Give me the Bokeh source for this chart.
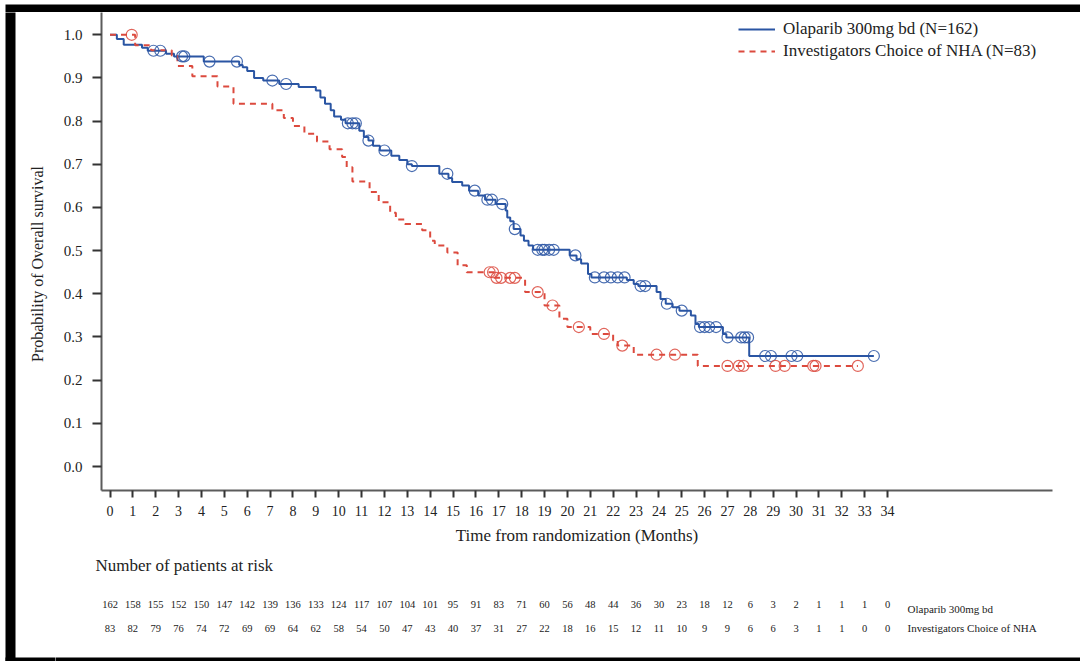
import numpy as np
from bokeh.plotting import figure
from bokeh.layouts import column, row
from bokeh.models import (Range1d, FixedTicker, NumeralTickFormatter, Legend, LegendItem,
                          BoxAnnotation)
from bokeh.core.properties import value
from bokeh.embed import file_html
from bokeh.resources import INLINE

# ---------------- data ----------------
months = list(range(0, 35))
y_ticks = [0.0, 0.1, 0.2, 0.3, 0.4, 0.5, 0.6, 0.7, 0.8, 0.9, 1.0]

ola_name = "Olaparib 300mg bd"
nha_name = "Investigators Choice of NHA"
ola_legend = "Olaparib 300mg bd (N=162)"
nha_legend = "Investigators Choice of NHA (N=83)"
x_title = "Time from randomization (Months)"
y_title = "Probability of Overall survival"
risk_title = "Number of patients at risk"

at_risk_ola = [162, 158, 155, 152, 150, 147, 142, 139, 136, 133, 124, 117, 107, 104, 101, 95, 91, 83,
               71, 60, 56, 48, 44, 36, 30, 23, 18, 12, 6, 3, 2, 1, 1, 1, 0]
at_risk_nha = [83, 82, 79, 76, 74, 72, 69, 69, 64, 62, 58, 54, 50, 47, 43, 40, 37, 31, 27, 22, 18, 16,
               15, 12, 11, 10, 9, 9, 6, 6, 3, 1, 1, 0, 0]

# Olaparib KM steps (time, survival after step)
ola_t = [0.0, 0.3, 0.6, 1.4, 1.65, 2.45, 2.8, 4.1, 5.65, 5.8, 6.0, 6.3, 6.7, 7.4, 8.25, 9.0, 9.2, 9.4,
         9.65, 9.8, 10.1, 10.3, 10.9, 11.1, 11.3, 11.5, 11.8, 12.3, 12.65, 13.0, 13.2, 14.4, 14.8,
         14.96, 15.4, 15.7, 16.1, 16.4, 16.86, 17.3, 17.37, 17.5, 17.65, 17.95, 18.1, 18.3, 18.5,
         20.1, 20.4, 20.6, 20.9, 21.05, 22.6, 22.9, 23.1, 23.9, 24.07, 24.3, 24.6, 24.9, 25.4, 25.6,
         25.75, 26.8, 26.95, 27.95]
ola_s = [1.0, 0.99, 0.977, 0.97, 0.963, 0.956, 0.95, 0.938, 0.93, 0.925, 0.916, 0.90, 0.894, 0.886,
         0.879, 0.871, 0.855, 0.84, 0.825, 0.811, 0.803, 0.795, 0.778, 0.763, 0.755, 0.743, 0.732,
         0.72, 0.71, 0.70, 0.696, 0.678, 0.668, 0.659, 0.651, 0.639, 0.628, 0.618, 0.608, 0.593,
         0.577, 0.568, 0.55, 0.535, 0.523, 0.512, 0.502, 0.489, 0.48, 0.47, 0.446, 0.438, 0.432,
         0.423, 0.418, 0.404, 0.388, 0.377, 0.369, 0.361, 0.35, 0.33, 0.323, 0.307, 0.299, 0.256]
ola_end = 33.4
ola_cens = [1.9, 2.2, 3.15, 3.25, 4.35, 5.55, 7.1, 7.7, 10.4, 10.6, 10.75, 11.3, 12.0, 13.2, 14.75,
            15.95, 16.5, 16.7, 17.15, 17.7, 18.7, 18.9, 19.0, 19.2, 19.4, 20.35, 21.2, 21.6, 21.9,
            22.2, 22.5, 23.2, 23.4, 24.35, 25.0, 25.8, 26.0, 26.2, 26.5, 27.0, 27.6, 27.75, 27.9,
            28.65, 28.9, 29.8, 30.05, 33.4]

# Investigators Choice of NHA KM steps
nha_t = [0.0, 1.1, 1.8, 2.7, 2.95, 3.6, 4.7, 5.4, 7.1, 7.6, 8.0, 8.5, 9.05, 9.6, 10.15, 10.35, 10.6,
         11.35, 11.75, 12.25, 12.5, 12.9, 13.65, 14.0, 14.2, 14.75, 15.2, 15.6, 16.8, 18.15, 19.0,
         19.65, 20.0, 21.0, 22.0, 22.2, 22.9, 25.7]
nha_s = [1.0, 0.976, 0.964, 0.952, 0.928, 0.904, 0.88, 0.84, 0.825, 0.807, 0.789, 0.771, 0.753, 0.735,
         0.717, 0.693, 0.66, 0.636, 0.612, 0.588, 0.572, 0.562, 0.547, 0.523, 0.512, 0.496, 0.466,
         0.45, 0.437, 0.404, 0.373, 0.342, 0.323, 0.307, 0.292, 0.28, 0.259, 0.233]
nha_end = 32.7
nha_cens = [0.95, 16.6, 16.75, 16.9, 17.1, 17.5, 17.7, 18.7, 19.35, 20.5, 21.6, 22.4, 23.9, 24.7,
            27.0, 27.5, 27.7, 29.1, 29.5, 30.75, 30.85, 32.7]

BLUE = "#2a55a3"
RED = "#dc4a3e"
TXT = "#222222"
SERIF = "Liberation Serif"

# ---------------- page geometry (pixels) ----------------
W, H = 1080, 661
TOP_H = 12            # strip holding the top black band
LEFT_W = 55           # strip holding the y title and the left black band
MAIN_H = 538          # main plot (page y 12 .. 550)
RISK_H = H - TOP_H - MAIN_H
X0_PX, PX_PER_MONTH = 109.5, 22.87      # x scale of the chart on the page
Y0_PX, PX_PER_UNIT = 466.0, 431.7       # y scale of the chart on the page
FRAME_L, FRAME_R, FRAME_T, FRAME_B = 101, 1052, 12, 490


def month_at(px):
    return (px - X0_PX) / PX_PER_MONTH


def prob_at(py):
    return (Y0_PX - py) / PX_PER_UNIT


def surv_at(ts, ss, cens):
    idx = np.searchsorted(np.array(ts), np.array(cens), side="right") - 1
    return [ss[i] for i in idx]


def blank(width, height, x_range, y_range):
    f = figure(width=width, height=height, output_backend="svg", toolbar_location=None,
               x_range=x_range, y_range=y_range, x_axis_location=None, y_axis_location=None,
               min_border=0)
    f.outline_line_color = None
    f.grid.visible = False
    f.frame_align = False
    return f


def band(**kw):
    return BoxAnnotation(fill_color="black", fill_alpha=1, line_color=None, **kw)


# ---------------- main figure ----------------
p = figure(width=W - LEFT_W, height=MAIN_H, output_backend="svg", toolbar_location=None,
           x_range=Range1d(month_at(FRAME_L), month_at(FRAME_R)),
           y_range=Range1d(prob_at(FRAME_B), prob_at(FRAME_T)),
           min_border_left=FRAME_L - LEFT_W, min_border_right=W - FRAME_R,
           min_border_top=FRAME_T - TOP_H, min_border_bottom=TOP_H + MAIN_H - FRAME_B)
p.frame_align = False
p.outline_line_color = None
p.xgrid.visible = False
p.ygrid.visible = False

p.xaxis.ticker = FixedTicker(ticks=months)
p.xaxis.axis_line_color = "#5c5c5c"
p.xaxis.axis_line_width = 2
p.xaxis.major_tick_line_color = "#333333"
p.xaxis.major_tick_line_width = 2
p.xaxis.major_tick_out = 7
p.xaxis.major_tick_in = 0
p.xaxis.minor_tick_out = 0
p.xaxis.minor_tick_in = 0
p.xaxis.major_label_standoff = 8
p.xaxis.major_label_text_font = SERIF
p.xaxis.major_label_text_font_size = "14px"
p.xaxis.major_label_text_color = TXT
p.xaxis.axis_label = x_title
p.xaxis.axis_label_text_font = SERIF
p.xaxis.axis_label_text_font_size = "17px"
p.xaxis.axis_label_text_font_style = "normal"
p.xaxis.axis_label_text_color = TXT
p.xaxis.axis_label_standoff = 7

p.yaxis.ticker = FixedTicker(ticks=y_ticks)
p.yaxis.formatter = NumeralTickFormatter(format="0.0")
p.yaxis.axis_line_color = "#5c5c5c"
p.yaxis.axis_line_width = 2
p.yaxis.major_tick_line_color = "#333333"
p.yaxis.major_tick_line_width = 2
p.yaxis.major_tick_out = 9
p.yaxis.major_tick_in = 0
p.yaxis.minor_tick_out = 0
p.yaxis.minor_tick_in = 0
p.yaxis.major_label_standoff = 10
p.yaxis.major_label_text_font = SERIF
p.yaxis.major_label_text_font_size = "15px"
p.yaxis.major_label_text_color = TXT

r_ola = p.step(ola_t + [ola_end], ola_s + [ola_s[-1]], mode="after",
               line_color=BLUE, line_width=2)
r_nha = p.step(nha_t + [nha_end], nha_s + [nha_s[-1]], mode="after",
               line_color=RED, line_width=2, line_dash="6 5")
p.scatter(ola_cens, surv_at(ola_t, ola_s, ola_cens), marker="circle", size=11,
          fill_color=None, line_color=BLUE, line_width=1.2, line_alpha=0.85)
p.scatter(nha_cens, surv_at(nha_t, nha_s, nha_cens), marker="circle", size=11,
          fill_color=None, line_color=RED, line_width=1.2, line_alpha=0.85)

legend = Legend(items=[LegendItem(label=ola_legend, renderers=[r_ola]),
                       LegendItem(label=nha_legend, renderers=[r_nha])],
                location=(738 - FRAME_L, FRAME_B - 61), padding=0, margin=0, spacing=2,
                glyph_width=37, glyph_height=20, label_height=20, label_standoff=8,
                border_line_color=None, background_fill_alpha=0,
                label_text_font=SERIF, label_text_font_size="17px", label_text_color=TXT)
p.add_layout(legend)

# ---------------- top strip (black band of the original picture) ----------------
top = blank(W, TOP_H, Range1d(0, W), Range1d(TOP_H, 0))
top.add_layout(band(left=5, right=W + 20, bottom=TOP_H + 20, top=4))

# ---------------- left strip (full height): y title and black bands ----------------
left = blank(LEFT_W, H - TOP_H, Range1d(0, LEFT_W), Range1d(H, TOP_H))
left.add_layout(band(left=5, right=15, bottom=H + 20, top=TOP_H - 20))
left.add_layout(band(left=5, right=LEFT_W + 20, bottom=H + 20, top=657))
left.text(x=[37], y=[263.5], text=[y_title], angle=np.pi / 2, text_align="center",
          text_baseline="middle", text_font=value(SERIF), text_font_size=value("16px"),
          text_color=TXT)

# ---------------- number at risk table ----------------
risk = blank(W - LEFT_W, RISK_H, Range1d(month_at(LEFT_W), month_at(W)),
             Range1d(H, TOP_H + MAIN_H))
risk.add_layout(band(left=month_at(LEFT_W - 20), right=month_at(W + 20), bottom=H + 20,
                     top=657))
risk.text(x=[month_at(95)], y=[565], text=[risk_title], text_align="left",
          text_baseline="middle", text_font=value(SERIF), text_font_size=value("17px"),
          text_color=TXT)
row1_y, row2_y = 604, 628
risk.text(x=months, y=[row1_y] * len(months), text=[str(v) for v in at_risk_ola],
          text_align="center", text_baseline="middle", text_font=value(SERIF),
          text_font_size=value("10.5px"), text_color=TXT)
risk.text(x=months, y=[row2_y] * len(months), text=[str(v) for v in at_risk_nha],
          text_align="center", text_baseline="middle", text_font=value(SERIF),
          text_font_size=value("10.5px"), text_color=TXT)
risk.text(x=[month_at(907)] * 2, y=[row1_y + 4, row2_y - 1], text=[ola_name, nha_name],
          text_align="left", text_baseline="middle", text_font=value(SERIF),
          text_font_size=value("11px"), text_color=TXT)

layout = column(top, row(left, column(p, risk)))
open("out.html", "w").write(file_html(layout, INLINE))
